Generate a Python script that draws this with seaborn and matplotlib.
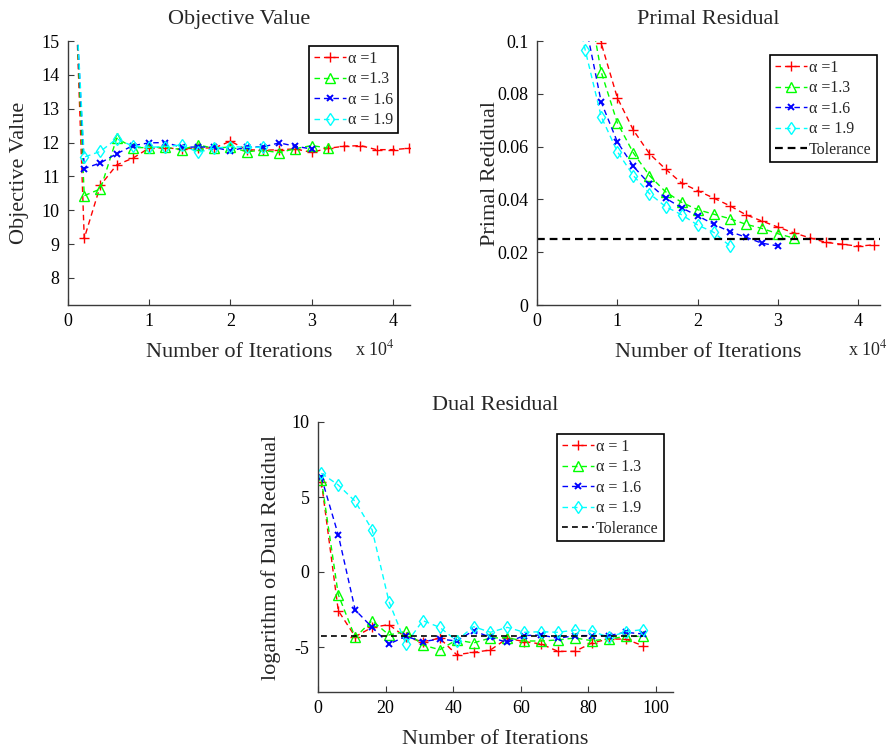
import numpy as np
import pandas as pd
import matplotlib
matplotlib.use("Agg")
import matplotlib.pyplot as plt
import seaborn as sns

sns.set_style("ticks")
plt.rcParams['font.family'] = ['Liberation Serif', 'DejaVu Serif']
plt.rcParams['mathtext.fontset'] = 'stix'
plt.rcParams['axes.unicode_minus'] = False

# ---------------- data ----------------
iters_red = [1000, 2000, 4000, 6000, 8000, 10000, 12000, 14000, 16000, 18000, 20000,
             22000, 24000, 26000, 28000, 30000, 32000, 34000, 36000, 38000, 40000, 42000]
iters_green = iters_red[:17]
iters_blue = iters_red[:16]
iters_cyan = iters_red[:13]

obj_red = [16.0, 9.17, 10.74, 11.34, 11.54, 11.84, 11.84, 11.81, 11.84, 11.84, 12.04,
           11.79, 11.77, 11.79, 11.81, 11.71, 11.83, 11.89, 11.91, 11.79, 11.79, 11.83]
obj_green = [16.0, 10.43, 10.63, 12.13, 11.85, 11.85, 11.86, 11.79, 11.93, 11.83, 11.87,
             11.73, 11.77, 11.70, 11.82, 11.91, 11.84]
obj_blue = [16.0, 11.23, 11.40, 11.67, 11.91, 11.99, 12.00, 11.86, 11.87, 11.86, 11.75,
            11.87, 11.87, 11.99, 11.89, 11.81]
obj_cyan = [16.0, 11.57, 11.74, 12.11, 11.89, 11.86, 11.88, 11.93, 11.71, 11.83, 11.88,
            11.86, 11.86]

pri_red = [0.60, 0.32, 0.18, 0.132, 0.0991, 0.0785, 0.0662, 0.0573, 0.0515, 0.0462, 0.0433,
           0.0405, 0.0376, 0.0342, 0.0318, 0.0295, 0.0273, 0.0254, 0.0237, 0.0230, 0.0223, 0.0228]
pri_green = [0.55, 0.29, 0.16, 0.122, 0.0882, 0.0690, 0.0576, 0.0490, 0.0429, 0.0389, 0.0361,
             0.0344, 0.0327, 0.0306, 0.0290, 0.0270, 0.0253]
pri_blue = [0.50, 0.26, 0.145, 0.107, 0.0768, 0.0618, 0.0525, 0.0458, 0.0405, 0.0368, 0.0338,
            0.0306, 0.0278, 0.0257, 0.0234, 0.0224]
pri_cyan = [0.45, 0.24, 0.125, 0.0966, 0.0713, 0.0581, 0.0490, 0.0422, 0.0373, 0.0342, 0.0303,
            0.0275, 0.0224]
pri_tol = 0.025

dual_iters = [1, 6, 11, 16, 21, 26, 31, 36, 41, 46, 51, 56, 61, 66, 71, 76, 81, 86, 91, 96]
dual_red = [6.02, -2.58, -4.31, -3.69, -3.51, -4.36, -4.64, -4.42, -5.51, -5.36,
            -5.20, -4.42, -4.64, -4.80, -5.29, -5.29, -4.73, -4.47, -4.47, -4.91]
dual_green = [6.16, -1.51, -4.36, -3.24, -4.20, -3.96, -4.87, -5.18, -4.53, -4.73,
              -4.40, -4.38, -4.60, -4.60, -4.53, -4.40, -4.58, -4.47, -4.29, -4.29]
dual_blue = [6.31, 2.47, -2.53, -3.69, -4.80, -4.29, -4.64, -4.47, -4.60, -3.91,
             -4.36, -4.69, -4.24, -4.20, -4.42, -4.24, -4.24, -4.24, -4.02, -4.13]
dual_cyan = [6.58, 5.80, 4.71, 2.82, -1.98, -4.80, -3.24, -3.69, -4.58, -3.64,
             -4.02, -3.69, -4.02, -3.98, -4.02, -3.87, -3.93, -4.36, -3.98, -3.84]
dual_tol = -4.25
dual_tol_x = [1, 96]

labels_obj = ["\u03b1 =1", "\u03b1 =1.3", "\u03b1 = 1.6", "\u03b1 = 1.9"]
labels_pri = ["\u03b1 =1", "\u03b1 =1.3", "\u03b1 =1.6", "\u03b1 = 1.9", "Tolerance"]
labels_dual = ["\u03b1 = 1", "\u03b1 = 1.3", "\u03b1 = 1.6", "\u03b1 = 1.9", "Tolerance"]

colors = ["#ff0000", "#00ff00", "#0000ff", "#00ffff"]
markers = ["+", "^", "x", "d"]
msizes = [6.5, 6.5, 4.5, 6]

W, H = 891, 749
fig = plt.figure(figsize=(W / 100, H / 100), dpi=100)

def px_axes(l, t, r, b):
    return fig.add_axes([l / W, 1 - b / H, (r - l) / W, (b - t) / H])

ax1 = px_axes(68, 41, 410, 305)
ax2 = px_axes(537, 41, 880, 305)
ax3 = px_axes(318, 422, 673, 692)

dash = (0, (4.0, 2.8))

def draw_series(ax, xs, ys, labels):
    for x, y, c, m, ms, lab in zip(xs, ys, colors, markers, msizes, labels):
        mfc = c if m in ("+", "x") else "none"
        mew = 1.4 if m == "x" else 1.0
        sns.lineplot(x=x, y=y, ax=ax, color=c, linestyle=dash, linewidth=1.0,
                     marker=m, markersize=ms, markerfacecolor=mfc, markeredgecolor=c,
                     markeredgewidth=mew, label=lab, estimator=None, sort=False)

axis_col = "#3a3a3a"
def style_axes(ax):
    sns.despine(ax=ax)
    for s in ("left", "bottom"):
        ax.spines[s].set_color(axis_col)
        ax.spines[s].set_linewidth(1.0)
    ax.tick_params(direction="in", length=4, width=0.8, color=axis_col,
                   labelsize=13, labelcolor="black", pad=6)

def make_legend(ax, l, t):
    leg = ax.legend(loc="upper left", bbox_to_anchor=(l / W, 1 - t / H),
                    bbox_transform=fig.transFigure, fontsize=11.5, frameon=True,
                    fancybox=False, framealpha=1, edgecolor="black",
                    handlelength=2.0, handletextpad=0.15, borderpad=0.3,
                    labelspacing=0.28, borderaxespad=0)
    leg.get_frame().set_linewidth(1.2)

# ---- Objective value ----
draw_series(ax1, [iters_red, iters_green, iters_blue, iters_cyan],
            [obj_red, obj_green, obj_blue, obj_cyan], labels_obj)
ax1.set_xlim(0, 42100)
ax1.set_ylim(7.2, 15)
ax1.set_yticks([8, 9, 10, 11, 12, 13, 14, 15])
ax1.set_xticks([0, 10000, 20000, 30000, 40000])
ax1.set_xticklabels(["0", "1", "2", "3", "4"])
style_axes(ax1)
ax1.set_title("Objective Value", fontsize=16, pad=12)
ax1.set_xlabel("Number of Iterations", fontsize=16, labelpad=9)
ax1.set_ylabel("Objective Value", fontsize=16, labelpad=9)
make_legend(ax1, 309, 46)
fig.text(355 / W, 1 - 349 / H, r"x 10$^{4}$", fontsize=13, va="center", ha="left")

# ---- Primal residual ----
draw_series(ax2, [iters_red, iters_green, iters_blue, iters_cyan],
            [pri_red, pri_green, pri_blue, pri_cyan], labels_pri[:4])
ax2.axhline(pri_tol, color="black", linestyle=(0, (3.5, 2.2)), linewidth=1.6,
            label=labels_pri[4])
ax2.set_xlim(0, 42700)
ax2.set_ylim(0, 0.1)
ax2.set_yticks([0, 0.02, 0.04, 0.06, 0.08, 0.1])
ax2.set_yticklabels(["0", "0.02", "0.04", "0.06", "0.08", "0.1"])
ax2.set_xticks([0, 10000, 20000, 30000, 40000])
ax2.set_xticklabels(["0", "1", "2", "3", "4"])
style_axes(ax2)
ax2.set_title("Primal Residual", fontsize=16, pad=12)
ax2.set_xlabel("Number of Iterations", fontsize=16, labelpad=9)
ax2.set_ylabel("Primal Redidual", fontsize=16, labelpad=-2)
make_legend(ax2, 770, 55)
fig.text(848 / W, 1 - 349 / H, r"x 10$^{4}$", fontsize=13, va="center", ha="left")

# ---- Dual residual ----
draw_series(ax3, [dual_iters] * 4, [dual_red, dual_green, dual_blue, dual_cyan], labels_dual[:4])
sns.lineplot(x=dual_tol_x, y=[dual_tol, dual_tol], ax=ax3, color="black",
             linestyle=(0, (3.5, 2.5)), linewidth=1.2, label=labels_dual[4], estimator=None)
ax3.set_xlim(0, 105)
ax3.set_ylim(-8, 10)
ax3.set_xticks([0, 20, 40, 60, 80, 100])
ax3.set_yticks([-5, 0, 5, 10])
style_axes(ax3)
ax3.set_title("Dual Residual", fontsize=16, pad=9)
ax3.set_xlabel("Number of Iterations", fontsize=16, labelpad=9)
ax3.set_ylabel("logarithm of Dual Redidual", fontsize=16, labelpad=8)
make_legend(ax3, 557, 434)

fig.savefig("out.png", dpi=100, facecolor="white")
